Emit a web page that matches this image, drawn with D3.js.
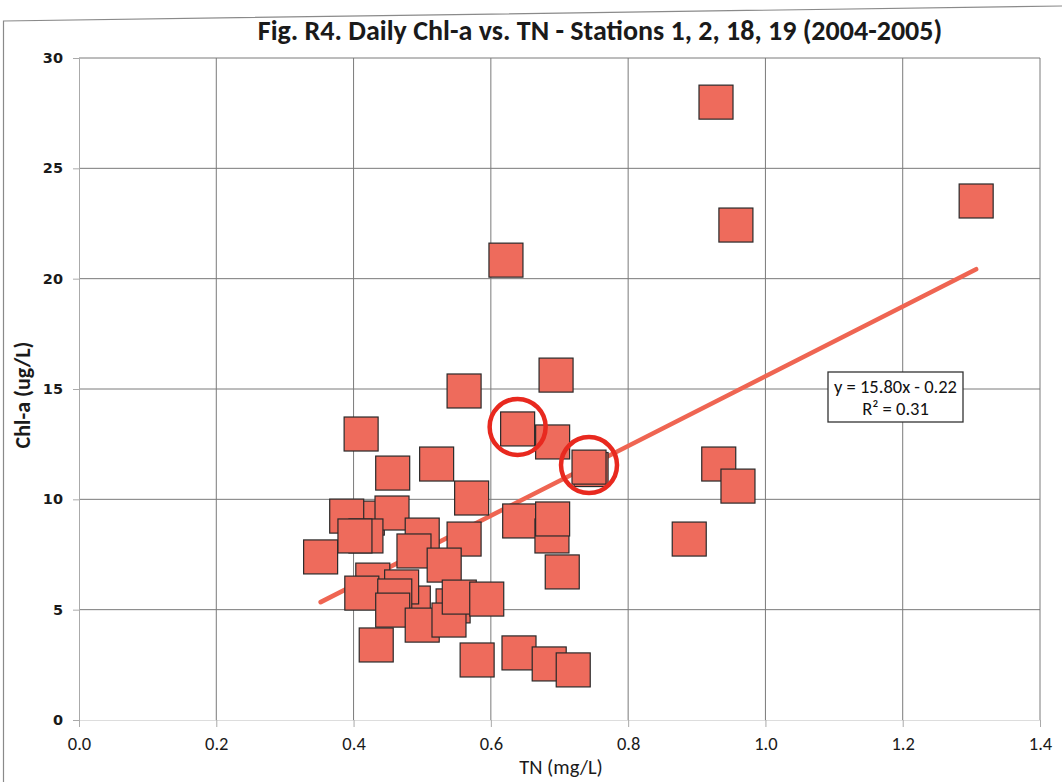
<!DOCTYPE html>
<html>
<head>
<meta charset="utf-8">
<script src="https://cdn.jsdelivr.net/npm/d3@7"></script>
<style>
  body { margin: 0; background: #fff; }
  svg { display: block; }
  .cal { font-family: Carlito, "Liberation Sans Narrow", "Open Sans", sans-serif; }
</style>
</head>
<body>
<svg id="chart" width="1062" height="782"></svg>
<script>
// ---- data ----
const tnValues = [
  0.928, 1.307, 0.957, 0.622, 0.695, 0.561, 0.690, 0.746, 0.639, 0.743,
  0.411, 0.457, 0.521, 0.572, 0.932, 0.960, 0.889, 0.352, 0.420, 0.390,
  0.456, 0.500, 0.418, 0.402, 0.488, 0.561, 0.532, 0.642, 0.689, 0.690,
  0.704, 0.428, 0.412, 0.487, 0.470, 0.460, 0.457, 0.545, 0.500, 0.539,
  0.554, 0.594, 0.433, 0.580, 0.641, 0.685, 0.720
];
const chlValues = [
  28.00, 23.52, 22.43, 20.84, 15.63, 14.91, 12.60, 11.35, 13.19, 11.46,
  12.96, 11.19, 11.60, 10.06, 11.60, 10.60, 8.20, 7.39, 9.15, 9.24,
  9.38, 8.38, 8.34, 8.34, 7.66, 8.20, 7.02, 9.02, 8.34, 9.11,
  6.71, 6.34, 5.75, 5.30, 6.03, 5.62, 4.98, 5.17, 4.30, 4.53,
  5.57, 5.48, 3.40, 2.72, 3.04, 2.54, 2.27
];
const highlightedIndex = [8, 9];           // circled points
const xTicks = [0, 0.2, 0.4, 0.6, 0.8, 1.0, 1.2, 1.4];
const yTicks = [0, 5, 10, 15, 20, 25, 30];
const trendSlope = 15.80;
const trendIntercept = -0.22;
const trendR2 = 0.31;
const titleText = "Fig. R4. Daily Chl-a vs. TN - Stations 1, 2, 18, 19 (2004-2005)";
const xTitle = "TN (mg/L)";
const yTitle = "Chl-a (ug/L)";

const points = tnValues.map((x, i) => ({ x, y: chlValues[i] }));

// ---- layout ----
const svg = d3.select("#chart");
const L = 79, R = 1040, T = 58, B = 720;
const x = d3.scaleLinear().domain([0, 1.4]).range([L, R]);
const y = d3.scaleLinear().domain([0, 30]).range([B, T]);

// outer frame (scanned, slightly tilted)
svg.append("path")
  .attr("d", "M3.5,790 L3.5,21 L1062,6")
  .attr("fill", "none").attr("stroke", "#8a8a8a").attr("stroke-width", 1.2);

// gridlines
const grid = svg.append("g");
grid.selectAll("line.h").data(yTicks.filter(d => d > 0)).join("line")
  .attr("x1", L).attr("x2", R)
  .attr("y1", d => y(d)).attr("y2", d => y(d))
  .attr("stroke", "#7a7a7a").attr("stroke-width", 1);
grid.selectAll("line.v").data(xTicks.filter(d => d > 0)).join("line")
  .attr("x1", d => x(d)).attr("x2", d => x(d))
  .attr("y1", T).attr("y2", B)
  .attr("stroke", "#7a7a7a").attr("stroke-width", 1);

// axes
const yAxis = d3.axisLeft(y).tickValues(yTicks).tickSize(6).tickPadding(10).tickFormat(d3.format("d"));
const gy = svg.append("g").attr("transform", `translate(${L},0)`).call(yAxis);
gy.select(".domain").attr("stroke", "#aaa");
gy.selectAll(".tick line").attr("stroke", "#aaa");
gy.selectAll("text").attr("font-family", "DejaVu Sans, Verdana, sans-serif")
  .attr("font-weight", "bold").attr("font-size", 14.5).attr("fill", "#1a1a1a");

const xAxis = d3.axisBottom(x).tickValues(xTicks).tickSize(7).tickPadding(10).tickFormat(d3.format(".1f"));
const gx = svg.append("g").attr("transform", `translate(0,${B})`).call(xAxis);
gx.select(".domain").attr("stroke", "#ddd");
gx.selectAll(".tick line").attr("stroke", "#aaa");
gx.selectAll("text").attr("class", "cal").attr("font-size", 18.5).attr("fill", "#1a1a1a");

// trend line (behind markers)
const xMin = d3.min(tnValues), xMax = d3.max(tnValues);
svg.append("line")
  .attr("x1", x(xMin)).attr("y1", y(trendSlope * xMin + trendIntercept))
  .attr("x2", x(xMax)).attr("y2", y(trendSlope * xMax + trendIntercept))
  .attr("stroke", "#ef6552").attr("stroke-width", 4.5).attr("stroke-linecap", "round");

// markers
const S = 34;
svg.append("g").selectAll("rect").data(points).join("rect")
  .attr("x", d => x(d.x) - S / 2).attr("y", d => y(d.y) - S / 2)
  .attr("width", S).attr("height", S)
  .attr("fill", "#ee6b5c").attr("stroke", "#2a2a2a").attr("stroke-width", 1.2);

// highlight circles
svg.append("g").selectAll("circle").data(highlightedIndex.map(i => points[i])).join("circle")
  .attr("cx", d => x(d.x)).attr("cy", d => y(d.y) - 2)
  .attr("r", 28).attr("fill", "none").attr("stroke", "#e8291f").attr("stroke-width", 4.5);

// equation box
const eq = svg.append("g");
eq.append("rect").attr("x", 828).attr("y", 372).attr("width", 135).attr("height", 50)
  .attr("fill", "#fff").attr("stroke", "#333").attr("stroke-width", 1.3);
eq.append("text").attr("class", "cal").attr("x", 895.5).attr("y", 393)
  .attr("text-anchor", "middle").attr("font-size", 18.5).attr("fill", "#111")
  .text(`y = ${trendSlope.toFixed(2)}x - ${Math.abs(trendIntercept).toFixed(2)}`);
eq.append("text").attr("class", "cal").attr("x", 895.5).attr("y", 415)
  .attr("text-anchor", "middle").attr("font-size", 18.5).attr("fill", "#111")
  .text(`R² = ${trendR2.toFixed(2)}`);

// title
svg.append("text").attr("class", "cal").attr("x", 600).attr("y", 40)
  .attr("text-anchor", "middle").attr("font-size", 28).attr("font-weight", "bold").attr("fill", "#1a1a1a")
  .text(titleText);

// axis titles
svg.append("text").attr("class", "cal").attr("x", 561).attr("y", 774)
  .attr("text-anchor", "middle").attr("font-size", 20.5).attr("fill", "#1a1a1a").text(xTitle);
svg.append("text").attr("class", "cal")
  .attr("transform", "translate(30,395) rotate(-90)")
  .attr("text-anchor", "middle").attr("font-size", 22).attr("font-weight", "bold").attr("fill", "#1a1a1a").text(yTitle);
</script>
</body>
</html>
